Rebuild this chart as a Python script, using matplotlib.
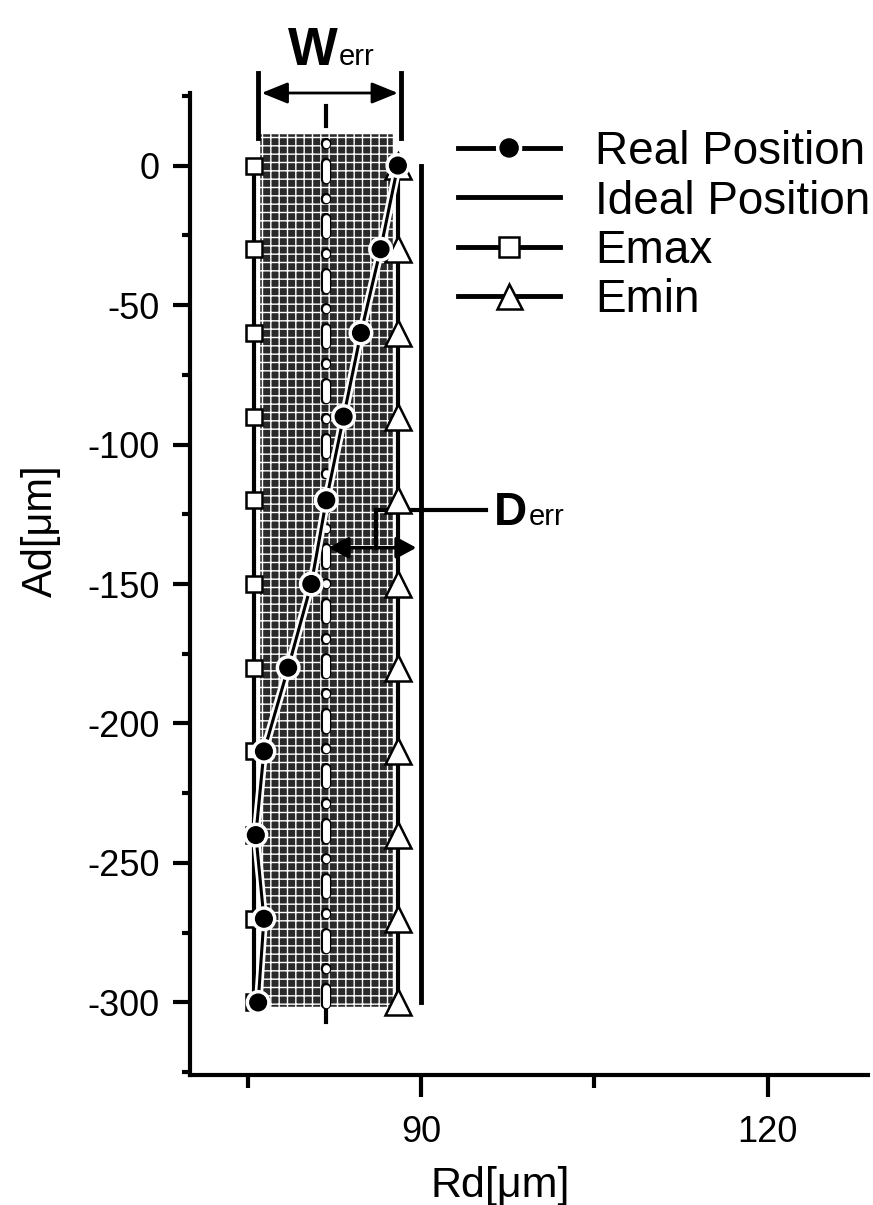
import matplotlib
matplotlib.use("Agg")
import matplotlib.pyplot as plt
import matplotlib.patheffects as pe
from matplotlib.ticker import MultipleLocator

# axial depth of the sampled points [um]
ad = [0, -30, -60, -90, -120, -150, -180, -210, -240, -270, -300]
# radial position of the real track [um]
rd_real = [88.0, 86.5, 84.8, 83.3, 81.8, 80.5, 78.5, 76.4, 75.7, 76.4, 75.9]
rd_ideal = 90.0
rd_emax = 75.5
rd_emin = 88.0
ideal_span = [0, -300]

# shaded tolerance band
band_x = [75.9, 87.7]
band_y = [12, -302]
band_mid = (rd_emax + rd_emin) / 2

# Werr / Derr dimension marks
werr_x = [75.9, 88.3]
werr_bar_y = [9.7, 33]
werr_y = 26
werr_text = (82.8, 36.0)
derr_y = -137
derr_x = [82.0, 89.6]
derr_leader_x = [86.1, 95.6]
derr_leader_y = -123.5
derr_text = (99.2, -128.9)

labels = ["Real Position", "Ideal Position", "Emax", "Emin"]

plt.rcParams["axes.unicode_minus"] = False
plt.rcParams["lines.scale_dashes"] = False
plt.rcParams["hatch.linewidth"] = 1.0
plt.rcParams["font.family"] = ["Liberation Sans", "DejaVu Sans"]

fig = plt.figure(figsize=(8.73, 12.05), dpi=100)
ax = fig.add_axes([190 / 873, 1 - 1075 / 1205, 678 / 873, 982 / 1205])

# tolerance band
ax.fill_betweenx(band_y, band_x[0], band_x[1], facecolor="#2a2a2a",
                 edgecolor="w", hatch="++", lw=2.5, zorder=1)

# centre line of the band: white dash-dot with black outline
dash = (31.6, (0.8, 13.6, 11.6, 13.6))
ax.plot([band_mid, band_mid], band_y, color="k", lw=7.5, linestyle=dash,
        dash_capstyle="round", zorder=2)
ax.plot([band_mid, band_mid], band_y, color="w", lw=5, linestyle=dash,
        dash_capstyle="round", zorder=2.1)
ax.plot([band_mid, band_mid], [14.3, 21.5], color="k", lw=3, clip_on=False)
ax.plot([band_mid, band_mid], [-301, -307], color="k", lw=3, clip_on=False)

n = len(ad)
h_ideal, = ax.plot([rd_ideal] * 2, ideal_span, color="k", lw=3.5, zorder=3)
h_emax, = ax.plot([rd_emax] * n, ad, "-s", color="k", lw=3, ms=12,
                  mfc="w", mec="k", mew=1.8, zorder=3, clip_on=False)
h_emin, = ax.plot([rd_emin] * n, ad, "-^", color="k", lw=3, ms=19,
                  mfc="w", mec="k", mew=1.8, zorder=3, clip_on=False)
h_real, = ax.plot(rd_real, ad, "-o", color="k", lw=2.2, ms=12, mfc="k",
                  mec="k", zorder=4,
                  path_effects=[pe.Stroke(linewidth=6, foreground="w"),
                                pe.Normal()])

# Werr
for x in werr_x:
    ax.plot([x, x], werr_bar_y, color="k", lw=3.5, clip_on=False)
ax.annotate("", xy=(werr_x[0] + 0.3, werr_y), xytext=(werr_x[1] - 0.3, werr_y),
            arrowprops=dict(arrowstyle="<|-|>,head_length=1.6,head_width=0.65",
                            mutation_scale=10, lw=2, color="k",
                            shrinkA=0, shrinkB=0),
            annotation_clip=False)
ax.text(*werr_text, "W", ha="right", va="baseline", fontsize=38,
        fontweight="bold", clip_on=False)
ax.text(werr_text[0] + 0.1, werr_text[1], "err", ha="left", va="baseline",
        fontsize=21, clip_on=False)

# Derr
ax.plot(derr_leader_x, [derr_leader_y] * 2, color="k", lw=3)
ax.plot([derr_leader_x[0]] * 2, [derr_leader_y, derr_y], color="k", lw=3)
ax.annotate("", xy=(derr_x[0], derr_y), xytext=(derr_x[1], derr_y),
            arrowprops=dict(arrowstyle="<|-|>,head_length=1.2,head_width=0.65",
                            mutation_scale=10, lw=2.5, color="k",
                            shrinkA=0, shrinkB=0), zorder=5)
ax.text(*derr_text, "D", ha="right", va="baseline", fontsize=33,
        fontweight="bold")
ax.text(derr_text[0] + 0.1, derr_text[1], "err", ha="left", va="baseline",
        fontsize=21)

# axes
ax.set_xlim(70, 128.7)
ax.set_ylim(-326, 26)
for s in ["top", "right"]:
    ax.spines[s].set_visible(False)
for s in ["left", "bottom"]:
    ax.spines[s].set_linewidth(3)
ax.xaxis.set_major_locator(MultipleLocator(30))
ax.xaxis.set_minor_locator(MultipleLocator(15))
ax.yaxis.set_major_locator(MultipleLocator(50))
ax.yaxis.set_minor_locator(MultipleLocator(25))
ax.tick_params(axis="x", which="major", length=16, width=3, pad=13)
ax.tick_params(axis="x", which="minor", length=9, width=3)
ax.tick_params(axis="y", which="major", length=12, width=3, pad=10)
ax.tick_params(axis="y", which="minor", length=6, width=3)
ax.tick_params(labelsize=26)

ax.set_xlabel("Rd[μm]", fontsize=31)
ax.set_ylabel("Ad[μm]", fontsize=30)
ax.xaxis.set_label_coords((503 - 190) / 683, (1075 - 1166) / 982)
ax.yaxis.label.set_verticalalignment("center")
ax.yaxis.set_label_coords((40 - 190) / 683, (1075 - 531) / 982)

leg = fig.legend([h_real, h_ideal, h_emax, h_emin], labels,
                 loc="upper left", bbox_to_anchor=(458 / 873, 1 - 130 / 1205),
                 fontsize=33, frameon=False, borderpad=0, borderaxespad=0,
                 labelspacing=0.12, handlelength=2.23, handletextpad=0.76)
for line, ms in zip(leg.get_lines(), [13, 0, 14, 18]):
    line.set_linewidth(3.5)
    if ms:
        line.set_markersize(ms)

fig.savefig("out.png", dpi=100)
